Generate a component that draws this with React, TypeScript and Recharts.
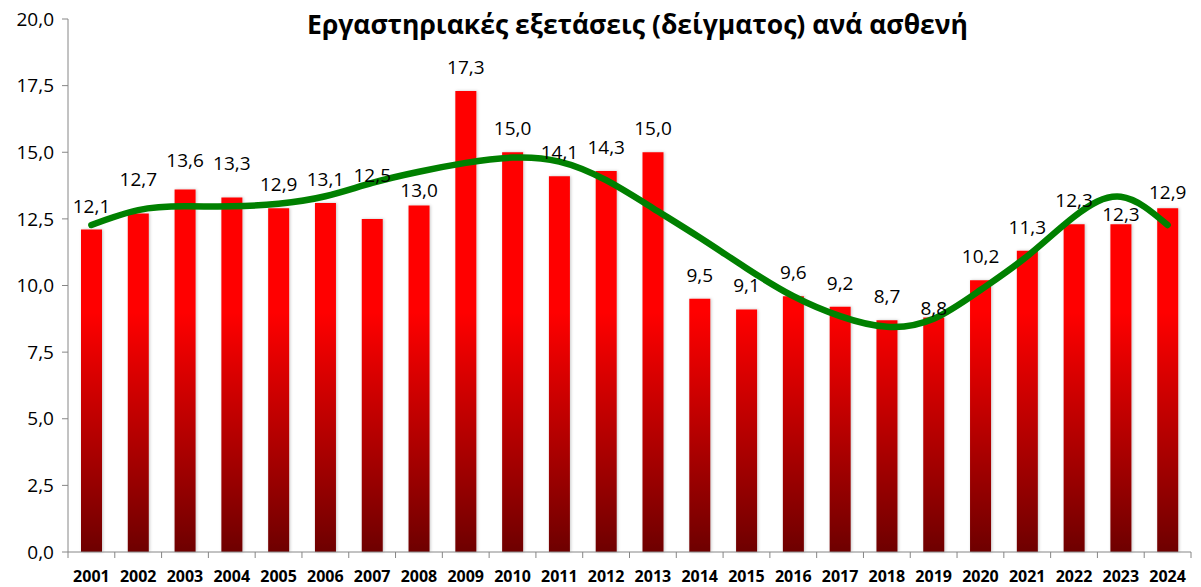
import React from "react";
import {
  ComposedChart,
  Bar,
  Line,
  XAxis,
  YAxis,
  LabelList,
} from "recharts";

const years = [
  "2001", "2002", "2003", "2004", "2005", "2006", "2007", "2008",
  "2009", "2010", "2011", "2012", "2013", "2014", "2015", "2016",
  "2017", "2018", "2019", "2020", "2021", "2022", "2023", "2024",
];

const testsPerPatient = [
  12.1, 12.7, 13.6, 13.3, 12.9, 13.1, 12.5, 13.0,
  17.3, 15.0, 14.1, 14.3, 15.0, 9.5, 9.1, 9.6,
  9.2, 8.7, 8.8, 10.2, 11.3, 12.3, 12.3, 12.9,
];

// polynomial trendline
const trendline = [
  12.27, 12.83, 12.97, 12.97, 13.07, 13.35, 13.85, 14.27,
  14.6, 14.8, 14.65, 13.95, 12.9, 11.8, 10.65, 9.6,
  8.85, 8.45, 8.75, 9.83, 11.1, 12.58, 13.33, 12.27,
];

const yTicks = [0, 2.5, 5, 7.5, 10, 12.5, 15, 17.5, 20];

const data = years.map((year, i) => ({
  year,
  value: testsPerPatient[i],
  trend: trendline[i],
}));

const WIDTH = 1201;
const HEIGHT = 587;
const MARGIN = { top: 19, right: 10, left: 0, bottom: 0 };
const Y_AXIS_WIDTH = 68;
const X_AXIS_HEIGHT = 35;
const PLOT_WIDTH = WIDTH - MARGIN.left - MARGIN.right - Y_AXIS_WIDTH;
const STEP = PLOT_WIDTH / years.length;

const FONT = "'Open Sans', sans-serif";
const AXIS_COLOR = "#868686";

// labels that were dragged by hand in the original (extra lift in px)
const LABEL_GAP = 24;
const labelNudge: Record<string, number> = {
  "2002": 11, "2003": 6, "2004": 11, "2007": 20, "2008": -8,
  "2019": -15, "2023": -14, "2024": -8,
};

const comma = (v: number) => v.toFixed(1).replace(".", ",");

const YearTick = (props: any) => {
  const { x, y, payload, index } = props;
  const axisY = y - 8;
  return (
    <g>
      <line x1={x - STEP / 2} x2={x - STEP / 2} y1={axisY} y2={axisY + 6} stroke={AXIS_COLOR} />
      {index === years.length - 1 && (
        <line x1={x + STEP / 2} x2={x + STEP / 2} y1={axisY} y2={axisY + 6} stroke={AXIS_COLOR} />
      )}
      <text
        x={x}
        y={axisY + 30}
        textAnchor="middle"
        fontFamily={FONT}
        fontWeight="bold"
        fontSize={16}
        fill="#000"
      >
        {payload.value}
      </text>
    </g>
  );
};

const ValueLabel = (props: any) => {
  const { x, y, width, value, index } = props;
  const lift = LABEL_GAP + (labelNudge[years[index]] || 0);
  return (
    <text
      x={x + width / 2}
      y={y - lift}
      textAnchor="middle"
      dominantBaseline="central"
      fontFamily={FONT}
      fontSize={19}
      fill="#000"
    >
      {comma(Number(value))}
    </text>
  );
};

const App = () => {
  return (
    <div style={{ position: "absolute", left: 0, top: 0, width: WIDTH, height: HEIGHT, background: "#fff" }}>
      <div
        style={{
          position: "absolute",
          left: 0,
          width: WIDTH + 74,
          top: 6,
          textAlign: "center",
          fontFamily: FONT,
          fontWeight: "bold",
          fontSize: 26.5,
          color: "#000",
          zIndex: 1,
        }}
      >
        Εργαστηριακές εξετάσεις (δείγματος) ανά ασθενή
      </div>
      <ComposedChart width={WIDTH} height={HEIGHT} data={data} margin={MARGIN} barSize={21}>
        <defs>
          <linearGradient id="barFill" gradientUnits="userSpaceOnUse" x1="0" y1={MARGIN.top} x2="0" y2={HEIGHT - X_AXIS_HEIGHT}>
            <stop offset="0%" stopColor="#FF0000" />
            <stop offset="55%" stopColor="#FF0000" />
            <stop offset="100%" stopColor="#6E0000" />
          </linearGradient>
          <filter id="barShadow" x="-30%" y="-5%" width="160%" height="110%">
            <feDropShadow dx="1" dy="0" stdDeviation="1.5" floodColor="#000" floodOpacity="0.22" />
          </filter>
        </defs>
        <XAxis
          dataKey="year"
          height={X_AXIS_HEIGHT}
          interval={0}
          tickLine={false}
          axisLine={{ stroke: AXIS_COLOR }}
          tick={<YearTick />}
        />
        <YAxis
          width={Y_AXIS_WIDTH}
          domain={[0, 20]}
          ticks={yTicks}
          tickFormatter={comma}
          tickSize={6}
          tickMargin={8}
          axisLine={{ stroke: AXIS_COLOR }}
          tickLine={{ stroke: AXIS_COLOR }}
          tick={{ fontFamily: FONT, fontSize: 19, fill: "#000" }}
        />
        <Bar dataKey="value" fill="url(#barFill)" filter="url(#barShadow)" isAnimationActive={false}>
          <LabelList dataKey="value" content={<ValueLabel />} />
        </Bar>
        <Line
          dataKey="trend"
          type="natural"
          stroke="#008000"
          strokeWidth={6.5}
          strokeLinecap="round"
          dot={false}
          activeDot={false}
          isAnimationActive={false}
        />
      </ComposedChart>
    </div>
  );
};

export default App;
